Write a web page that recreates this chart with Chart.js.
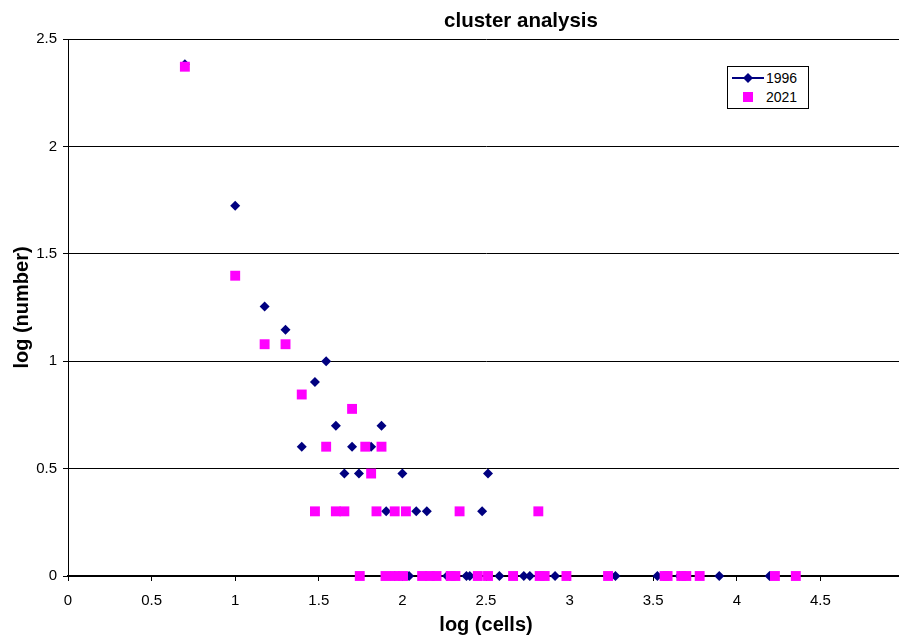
<!DOCTYPE html>
<html>
<head>
<meta charset="utf-8">
<script src="https://cdn.jsdelivr.net/npm/chart.js@4/dist/chart.umd.min.js"></script>
<style>
    html, body { margin: 0; padding: 0; background: #fff; overflow: hidden; }
    #wrap { position: relative; width: 1042px; height: 637px; }
    #title {
        position: absolute; left: 0; top: 8px; width: 1042px; text-align: center;
        font-family: "Liberation Sans", Arial, sans-serif; font-size: 20.5px; font-weight: bold; color: #000;
    }
    #legend {
        position: absolute; left: 727px; top: 66px; width: 80px; height: 41px;
        border: 1px solid #000; background: #fff;
        font-family: "Liberation Sans", Arial, sans-serif; font-size: 14px; color: #000;
    }
    #legend .row { position: absolute; left: 0; height: 18px; line-height: 18px; }
    #legend .row span { position: absolute; left: 38px; top: 0; }
    #legend svg { position: absolute; left: 2px; top: 0; }
</style>
</head>
<body>
<div id="wrap">
    <canvas id="chart" width="1042" height="637"></canvas>
    <div id="title">cluster analysis</div>
    <div id="legend">
        <div class="row" style="top:2px">
            <svg width="36" height="18"><line x1="2" y1="9" x2="34" y2="9" stroke="#000080" stroke-width="2"/><polygon points="18,4 23,9 18,14 13,9" fill="#000080"/></svg>
            <span>1996</span>
        </div>
        <div class="row" style="top:21px">
            <svg width="36" height="18"><rect x="13" y="4" width="10" height="10" fill="#ff00ff"/></svg>
            <span>2021</span>
        </div>
    </div>
</div>
<script>
// log (cells) / log (number) pairs
const cells1996 = [0.699, 1.0, 1.176, 1.301, 1.398, 1.477, 1.544, 1.602, 1.653, 1.699, 1.740, 1.813, 1.875,
    1.903, 2.0, 2.083, 2.146, 2.477, 2.512,
    1.954, 2.04, 2.267, 2.383, 2.403, 2.580, 2.726, 2.762, 2.913, 3.274, 3.525, 3.658, 3.895, 4.196];
const number1996 = [2.382, 1.724, 1.255, 1.146, 0.602, 0.903, 1.0, 0.699, 0.477, 0.602, 0.477, 0.602, 0.699,
    0.301, 0.477, 0.301, 0.301, 0.301, 0.477,
    0, 0, 0, 0, 0, 0, 0, 0, 0, 0, 0, 0, 0, 0];

const cells2021 = [0.699, 1.0, 1.176, 1.301, 1.398, 1.544, 1.699, 1.778, 1.875, 1.813,
    1.477, 1.602, 1.653, 1.845, 1.954, 2.021, 2.342, 2.813,
    1.745, 1.899, 1.955, 2.004, 2.118, 2.164, 2.204, 2.289, 2.317, 2.451, 2.512, 2.662, 2.821, 2.851,
    2.981, 3.230, 3.568, 3.586, 3.668, 3.698, 3.778, 4.228, 4.353];
const number2021 = [2.371, 1.398, 1.079, 1.079, 0.845, 0.602, 0.778, 0.602, 0.602, 0.477,
    0.301, 0.301, 0.301, 0.301, 0.301, 0.301, 0.301, 0.301,
    0, 0, 0, 0, 0, 0, 0, 0, 0, 0, 0, 0, 0, 0,
    0, 0, 0, 0, 0, 0, 0, 0, 0];

const xTicks = [0, 0.5, 1, 1.5, 2, 2.5, 3, 3.5, 4, 4.5, 5];
const yTicks = [0, 0.5, 1, 1.5, 2, 2.5];

const FONT = '"Liberation Sans", Arial, sans-serif';

function toPoints(xs, ys) {
    return xs.map((x, i) => ({ x: x, y: ys[i] }));
}

new Chart(document.getElementById('chart'), {
    type: 'scatter',
    data: {
        datasets: [{
            label: '1996',
            data: toPoints(cells1996, number1996),
            pointStyle: 'rectRot',
            pointRadius: 5,
            pointBackgroundColor: '#000080',
            pointBorderColor: '#000080',
            pointBorderWidth: 0,
            clip: false,
            order: 2
        }, {
            label: '2021',
            data: toPoints(cells2021, number2021),
            pointStyle: 'rect',
            pointRadius: 7,
            pointBackgroundColor: '#ff00ff',
            pointBorderColor: '#ff00ff',
            pointBorderWidth: 0,
            clip: false,
            order: 1
        }]
    },
    options: {
        responsive: false,
        animation: false,
        layout: { padding: { left: 0, right: 138, top: 39, bottom: 0 } },
        plugins: {
            legend: { display: false },
            tooltip: { enabled: false },
            title: { display: false }
        },
        scales: {
            x: {
                type: 'linear',
                min: 0, max: 5,
                afterBuildTicks: scale => { scale.ticks = xTicks.map(v => ({ value: v })); },
                afterFit: scale => { scale.height = 61; },
                grid: { drawOnChartArea: false, drawTicks: true, tickLength: 5, color: '#000' },
                border: { color: '#000', width: 1.5 },
                ticks: { color: '#000', font: { family: FONT, size: 15 }, padding: 11, maxRotation: 0, autoSkip: false, callback: v => String(v) },
                title: { display: true, text: 'log (cells)', color: '#000', font: { family: FONT, size: 20, weight: 'bold' }, padding: { top: 0, bottom: 0 } }
            },
            y: {
                type: 'linear',
                min: 0, max: 2.5,
                afterBuildTicks: scale => { scale.ticks = yTicks.map(v => ({ value: v })); },
                afterFit: scale => { scale.width = 68; },
                grid: { color: '#000', lineWidth: 1, drawTicks: true, tickLength: 5 },
                border: { color: '#000', width: 1 },
                ticks: { color: '#000', font: { family: FONT, size: 15 }, padding: 6, callback: v => String(v) },
                title: { display: true, text: 'log (number)', color: '#000', font: { family: FONT, size: 20, weight: 'bold' }, padding: { top: 10, bottom: 0 } }
            }
        }
    }
});
</script>
</body>
</html>
